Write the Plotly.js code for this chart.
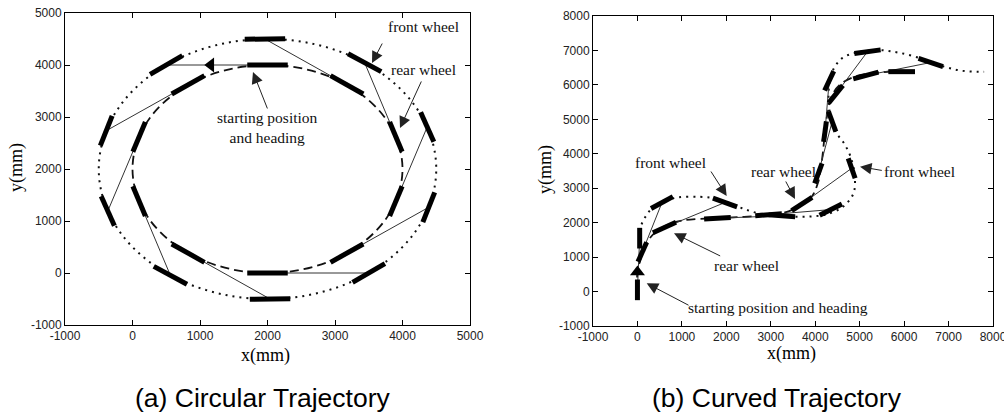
<!DOCTYPE html>
<html><head><meta charset="utf-8">
<script src="https://cdn.plot.ly/plotly-3.0.1.min.js"></script>
<style>html,body{margin:0;padding:0;background:#fff;}#chart{width:1004px;height:414px;}</style>
</head><body><div id="chart"></div>
<script>
// ---------- (a) Circular trajectory ----------
const circRearPathX  = [4000,3932,3732,3414,3000,2518,2000,1482,1000,586,268,68,0,68,268,586,1000,1482,2000,2518,3000,3414,3732,3932,4000];
const circRearPathY  = [2000,2518,3000,3414,3732,3932,4000,3932,3732,3414,3000,2518,2000,1482,1000,586,268,68,0,68,268,586,1000,1482,2000];
const circFrontPathX = [4500,4415,4165,3768,3250,2647,2000,1353,750,232,-165,-415,-500,-415,-165,232,750,1353,2000,2647,3250,3768,4165,4415,4500];
const circFrontPathY = [2000,2647,3250,3768,4165,4415,4500,4415,4165,3768,3250,2647,2000,1353,750,232,-165,-415,-500,-415,-165,232,750,1353,2000];
const circRearX   = [2000, 824,  98,  98, 824, 2000, 3176, 3902, 3902, 3176];
const circRearY   = [4000,3618,2618,1382, 382,    0,  382, 1382, 2618, 3618];
const circRearHdg = [ 180, 216, 252, 288, 324,    0,   36,   72,  108,  144];
const circFrontX  = [ 500,-389,-366, 561,2038, 3500, 4389, 4366, 3439, 1962];
const circFrontY  = [4000,2736,1192, -44,-500,    0, 1264, 2808, 4044, 4500];
const circFrontHdg= [ 217, 253, 289, 325,   1,   37,   73,  109,  145,  181];
const circStartArrow = {x:[1160], y:[4000]};

// ---------- (b) Curved trajectory ----------
const curvRearPathX  = [0,0,50,120,250,430,700,1000,1400,1900,2400,2900,3300,3600,3900,4060,4150,4210,4280,4400,4620,5000,5500,6200];
const curvRearPathY  = [0,600,850,1150,1500,1750,1950,2060,2110,2140,2170,2220,2290,2450,2720,3150,3800,4500,5200,5750,6070,6280,6370,6390];
const curvFrontPathX = [50,80,170,330,560,900,1400,1750,2050,2350,2700,3100,3500,3900,4250,4630,4860,4890,4800,4650,4480,4360,4300,4320,4400,4600,4900,5400,5900,6450,6900,7300,7800];
const curvFrontPathY = [1550,1900,2150,2420,2600,2730,2750,2700,2580,2420,2280,2210,2175,2180,2240,2470,2850,3340,3900,4300,4600,5000,5550,6050,6430,6770,6930,7010,6930,6740,6530,6410,6380];
const curvRearX   = [  0, 110, 608,1800,2950,3700,4070,4220,4463,5139,5945];
const curvRearY   = [ 50,1150,1860,2130,2230,2540,3430,4642,5731,6272,6384];
const curvRearHdg = [ 90,  71,  30,   4,   5,  40,  74,  84,  58,  19,   0];
const curvFrontX  = [ 50, 552,1970,3250,4350,4820,4381,4314,5176,6600,null];
const curvFrontY  = [1550,2585,2586,2200,2380,3578,4932,6118,6965,6650,null];
const curvFrontHdg= [ 90,  35, -25,  -5,  33, 105, 106,  70,  10, -23,null];
const curvStartArrow = {x:[0], y:[570]};

// tick values
const ticksA = [-1000,0,1000,2000,3000,4000,5000];
const ticksB = [-1000,0,1000,2000,3000,4000,5000,6000,7000,8000];

const WHEEL_HALF = 300;
function segs(cx, cy, hdg, half){
  const xs=[], ys=[];
  for(let i=0;i<cx.length;i++){
    if(cx[i]==null) continue;
    const a=hdg[i]*Math.PI/180;
    xs.push(cx[i]-half*Math.cos(a), cx[i]+half*Math.cos(a), null);
    ys.push(cy[i]-half*Math.sin(a), cy[i]+half*Math.sin(a), null);
  }
  return {x:xs,y:ys};
}
function bodies(rx, ry, fx, fy){
  const xs=[], ys=[];
  for(let i=0;i<rx.length;i++){
    if(fx[i]==null) continue;
    xs.push(rx[i], fx[i], null); ys.push(ry[i], fy[i], null);
  }
  return {x:xs,y:ys};
}
function setTraces(xa, ya, rpx, rpy, fpx, fpy, rx, ry, rh, fx, fy, fh, arrow, sym){
  const rw = segs(rx, ry, rh, WHEEL_HALF), fw = segs(fx, fy, fh, WHEEL_HALF), bd = bodies(rx, ry, fx, fy);
  return [
    {x:fpx, y:fpy, xaxis:xa, yaxis:ya, mode:'lines', line:{color:'#111', width:2, dash:'2px,5px', shape:'spline', smoothing:1}, hoverinfo:'skip'},
    {x:rpx, y:rpy, xaxis:xa, yaxis:ya, mode:'lines', line:{color:'#111', width:1.8, dash:'9px,5px', shape:'spline', smoothing:1}, hoverinfo:'skip'},
    {x:bd.x, y:bd.y, xaxis:xa, yaxis:ya, mode:'lines', line:{color:'#333', width:1}, hoverinfo:'skip'},
    {x:rw.x, y:rw.y, xaxis:xa, yaxis:ya, mode:'lines', line:{color:'#000', width:5}, hoverinfo:'skip'},
    {x:fw.x, y:fw.y, xaxis:xa, yaxis:ya, mode:'lines', line:{color:'#000', width:5}, hoverinfo:'skip'},
    {x:arrow.x, y:arrow.y, xaxis:xa, yaxis:ya, mode:'markers', marker:{symbol:sym, size:13, color:'#000'}, hoverinfo:'skip'}
  ];
}
const data = [].concat(
  setTraces('x','y', circRearPathX, circRearPathY, circFrontPathX, circFrontPathY, circRearX, circRearY, circRearHdg, circFrontX, circFrontY, circFrontHdg, circStartArrow, 'triangle-left'),
  setTraces('x2','y2', curvRearPathX, curvRearPathY, curvFrontPathX, curvFrontPathY, curvRearX, curvRearY, curvRearHdg, curvFrontX, curvFrontY, curvFrontHdg, curvStartArrow, 'triangle-up')
);

const tickFont = {family:'Liberation Sans, Arial, sans-serif', size:12, color:'#222'};
function axis(dom, rng, tv, anchor){
  return {domain:dom, range:rng, tickvals:tv, ticktext:tv.map(String), ticks:'inside', ticklen:5, tickcolor:'#000',
    showline:true, linecolor:'#000', linewidth:1, mirror:'ticks', showgrid:false, zeroline:false, tickfont:tickFont,
    anchor:anchor, fixedrange:true, ticklabeloverflow:'allow'};
}
const serif = {family:'Liberation Serif, Times New Roman, serif', size:15.5, color:'#111'};
const axTitleFont = {family:'Liberation Serif, Times New Roman, serif', size:18, color:'#000'};
const capFont = {family:'Liberation Sans, Arial, sans-serif', size:26.5, color:'#000'};

function txt(xr, yr, x, y, t){ return {xref:xr, yref:yr, x:x, y:y, text:t, showarrow:false, font:serif, xanchor:'center', yanchor:'middle'}; }
function arr(xr, yr, hx, hy, tx, ty){ return {xref:xr, yref:yr, axref:xr, ayref:yr, x:hx, y:hy, ax:tx, ay:ty, text:'', showarrow:true, arrowhead:2, arrowsize:2.3, arrowwidth:1, arrowcolor:'#222', standoff:0, startstandoff:0}; }

const annotations = [
  txt('x','y', 4304, 4731, 'front wheel'),
  txt('x','y', 4304, 3904, 'rear wheel'),
  txt('x','y', 2007, 2800, 'starting position<br>and heading'),
  arr('x','y', 3548, 4038, 3711, 4442),
  arr('x','y', 3963, 2788, 4289, 3712),
  arr('x','y', 1785, 3865, 2007, 3135),
  txt('x2','y2', 748, 3753, 'front wheel'),
  txt('x2','y2', 3282, 3480, 'rear wheel'),
  txt('x2','y2', 6342, 3480, 'front wheel'),
  txt('x2','y2', 2443, 751, 'rear wheel'),
  txt('x2','y2', 3170, -457, 'starting position and heading'),
  arr('x2','y2', 2008, 2775, 1633, 3529),
  arr('x2','y2', 3545, 2688, 3320, 3239),
  arr('x2','y2', 5008, 3625, 5532, 3509),
  arr('x2','y2', 823, 1692, 1895, 1013),
  arr('x2','y2', 208, 240, 1183, -419),
  // axis titles
  {xref:'paper', yref:'paper', x:16/1004, y:1-168/414, text:'y(mm)', textangle:-90, showarrow:false, font:axTitleFont, xanchor:'center', yanchor:'middle'},
  {xref:'paper', yref:'paper', x:545/1004, y:1-170/414, text:'y(mm)', textangle:-90, showarrow:false, font:axTitleFont, xanchor:'center', yanchor:'middle'},
  {xref:'paper', yref:'paper', x:265/1004, y:1-355/414, text:'x(mm)', showarrow:false, font:axTitleFont, xanchor:'center', yanchor:'middle'},
  {xref:'paper', yref:'paper', x:791/1004, y:1-353/414, text:'x(mm)', showarrow:false, font:axTitleFont, xanchor:'center', yanchor:'middle'},
  // captions
  {xref:'paper', yref:'paper', x:262/1004, y:1-398/414, text:'(a) Circular Trajectory', showarrow:false, font:capFont, xanchor:'center', yanchor:'middle'},
  {xref:'paper', yref:'paper', x:777/1004, y:1-398/414, text:'(b) Curved Trajectory', showarrow:false, font:capFont, xanchor:'center', yanchor:'middle'}
];

const layout = {
  width:1004, height:414, margin:{l:0,r:0,t:0,b:0}, paper_bgcolor:'#fff', plot_bgcolor:'#fff', showlegend:false,
  xaxis: axis([65/1004, 470/1004], [-1000,5000], ticksA, 'y'),
  yaxis: axis([1-325/414, 1-13/414], [-1000,5000], ticksA, 'x'),
  xaxis2: axis([593/1004, 993/1004], [-1000,8000], ticksB, 'y2'),
  yaxis2: axis([1-326/414, 1-16/414], [-1000,8000], ticksB, 'x2'),
  annotations: annotations
};
Plotly.newPlot('chart', data, layout, {displayModeBar:false, staticPlot:true});
</script></body></html>
